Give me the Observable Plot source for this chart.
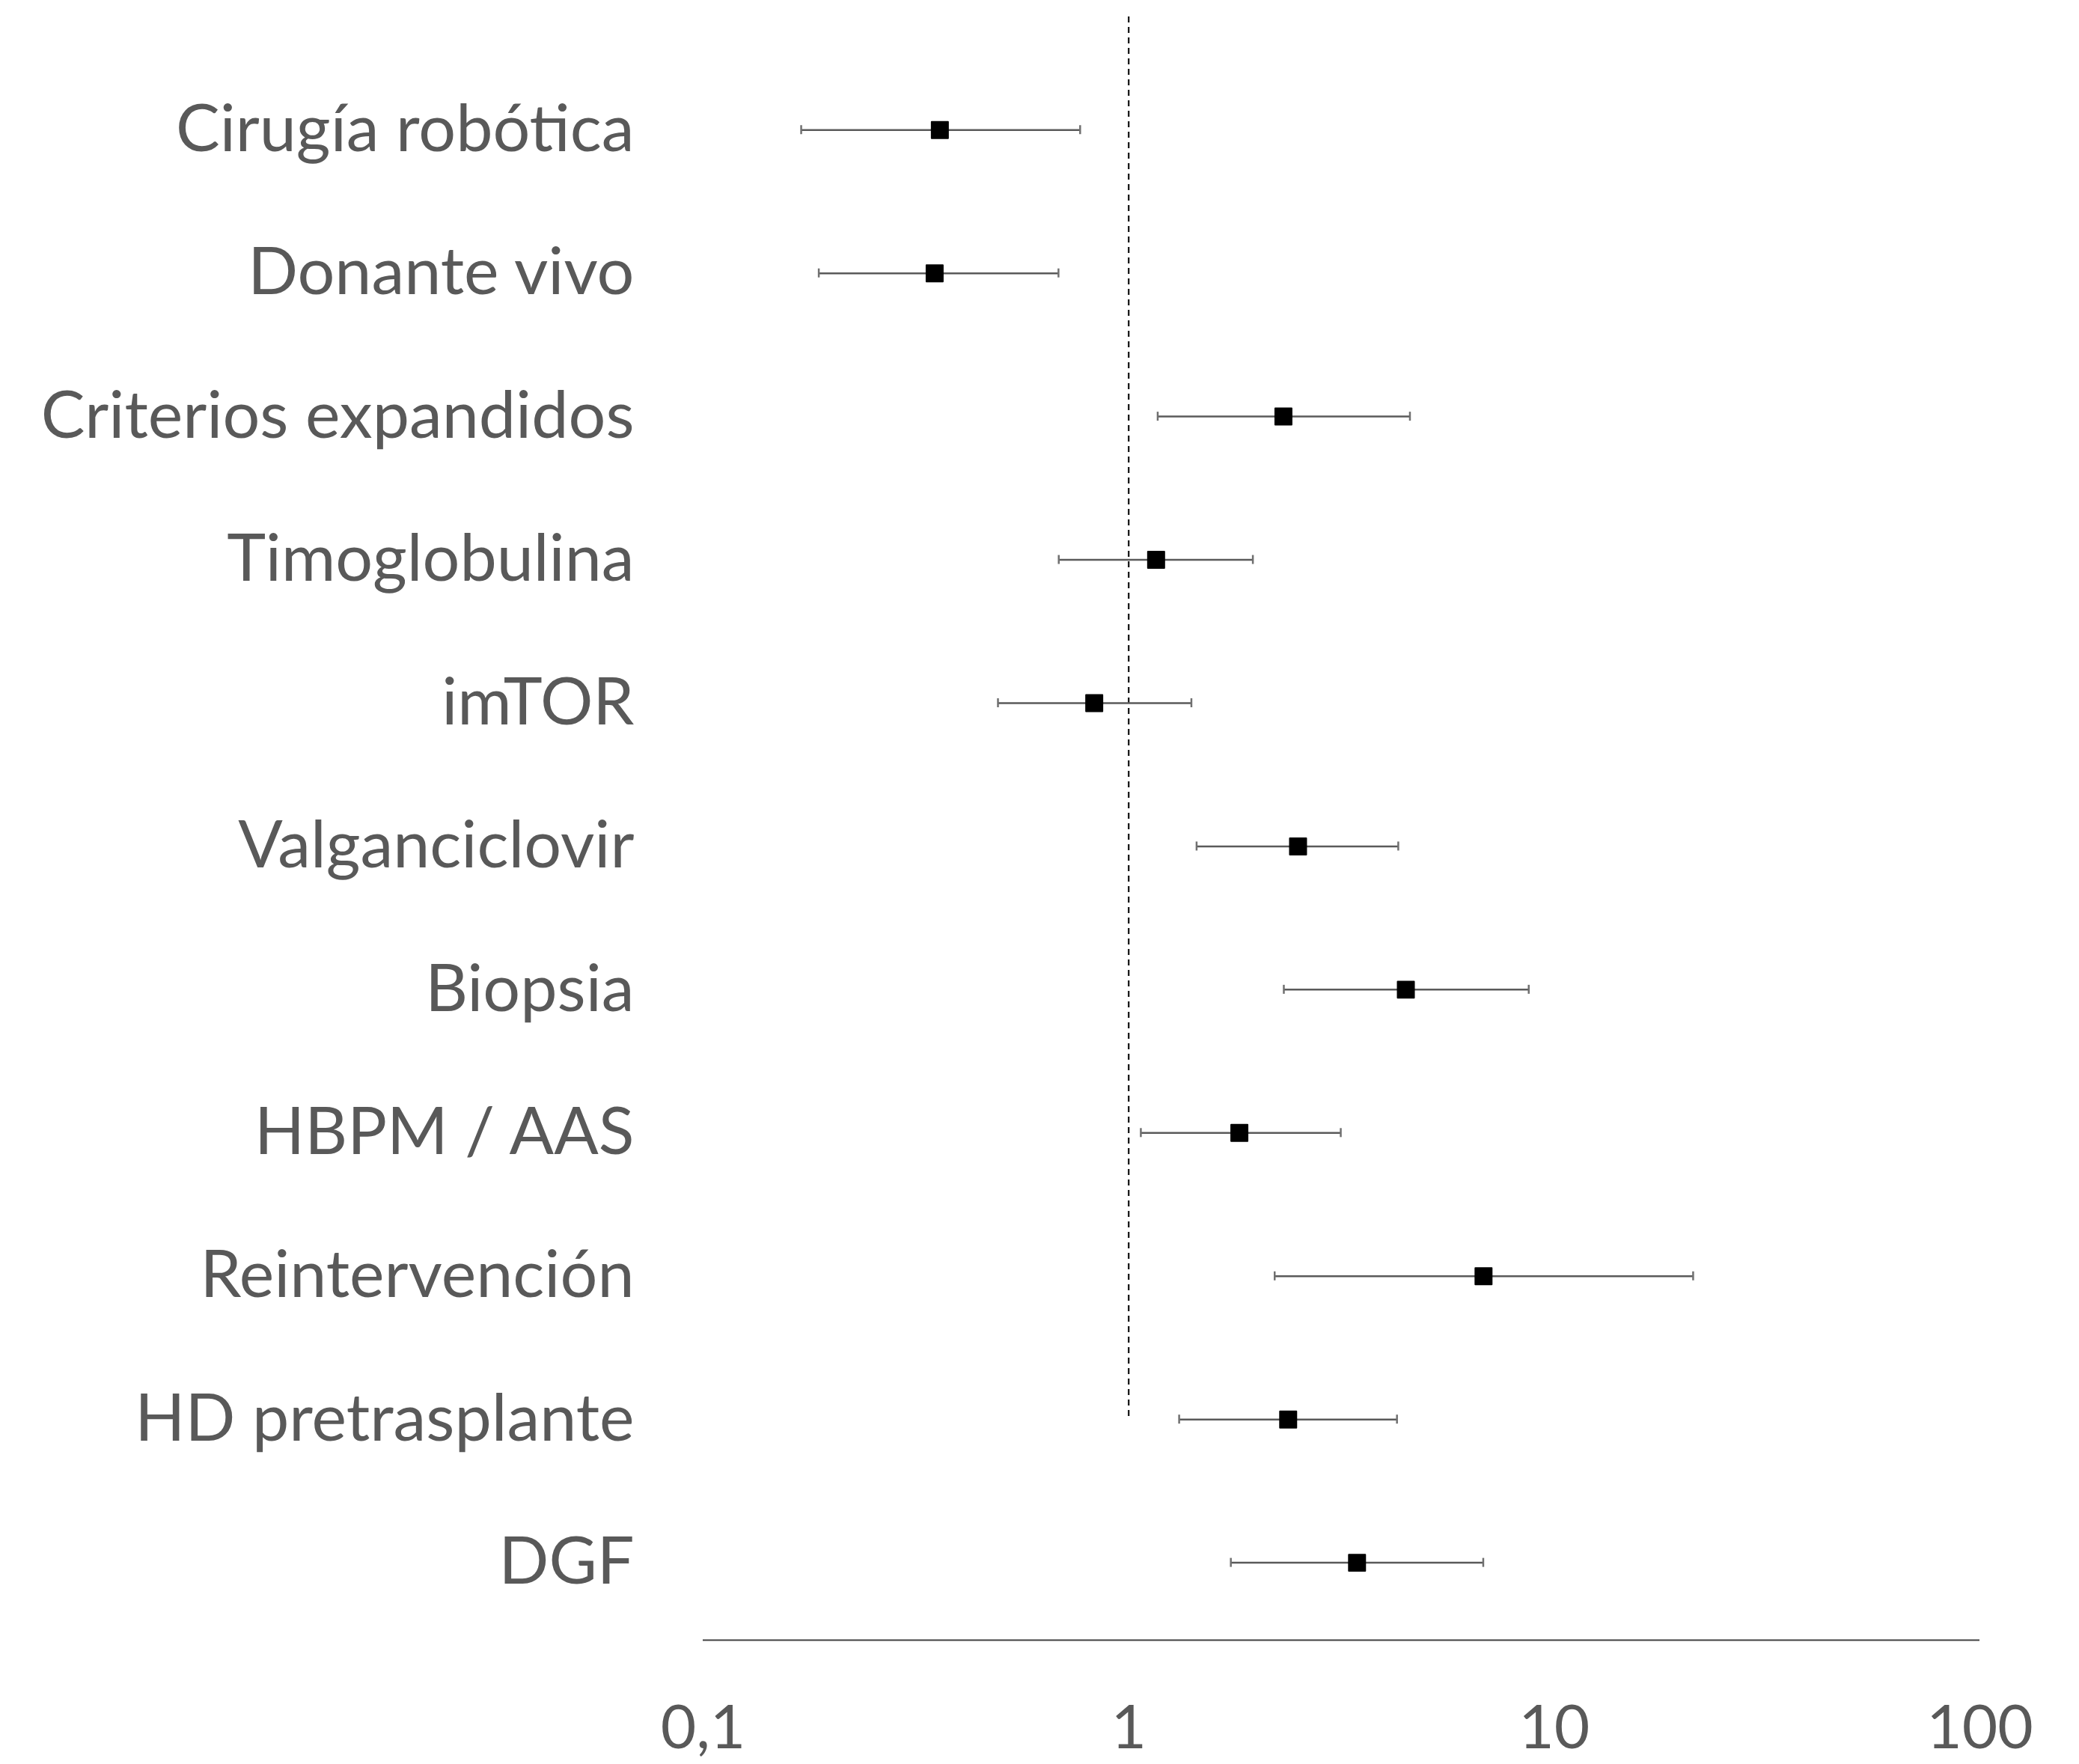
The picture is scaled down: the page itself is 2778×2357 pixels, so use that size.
<!DOCTYPE html>
<html>
<head>
<meta charset="utf-8">
<script src="https://cdn.jsdelivr.net/npm/d3@7"></script>
<script src="https://cdn.jsdelivr.net/npm/@observablehq/plot@0.6"></script>
<style>
  html, body { margin: 0; padding: 0; background: #ffffff; }
  svg { display: block; }
</style>
</head>
<body>
<div id="chart"></div>
<script>
// Factors (top to bottom)
const labels = [
  "Cirugía robótica",
  "Donante vivo",
  "Criterios expandidos",
  "Timoglobulina",
  "imTOR",
  "Valganciclovir",
  "Biopsia",
  "HBPM / AAS",
  "Reintervención",
  "HD pretrasplante",
  "DGF"
];
// Point estimates (odds ratio) and 95% CI bounds
const estimate = [0.36, 0.35, 2.31, 1.16, 0.83, 2.50, 4.48, 1.82, 6.82, 2.37, 3.44];
const lower    = [0.17, 0.187, 1.17, 0.685, 0.493, 1.444, 2.315, 1.068, 2.203, 1.314, 1.738];
const upper    = [0.769, 0.684, 4.58, 1.958, 1.404, 4.30, 8.71, 3.15, 21.2, 4.27, 6.81];

// X axis ticks
const xTicks = [0.1, 1, 10, 100];
const xTickLabels = ["0,1", "1", "10", "100"];

// Reference line (OR = 1) and its vertical extent in row units
const refValue = 1;
const refExtent = [0.21, 10];
// Y domain in row units (row 1 = first label)
const yDomain = [0.21, 11.54];

const idx = d3.range(labels.length);
const row = i => i + 1;

const chart = Plot.plot({
  width: 2778,
  height: 2357,
  marginLeft: 939,
  marginRight: 133,
  marginTop: 22,
  marginBottom: 166,
  x: { type: "log", domain: [0.1, 100] },
  y: { domain: yDomain, reverse: true },
  style: { fontFamily: "Lato, 'Open Sans', sans-serif", color: "#595959", background: "#ffffff" },
  marks: [
    Plot.ruleX([refValue], {
      x: d => d, y1: () => refExtent[0], y2: () => refExtent[1],
      stroke: "#1a1a1a", strokeWidth: 2.3, strokeDasharray: "8,6"
    }),
    Plot.ruleY([yDomain[1]], { y: d => d, stroke: "#404040", strokeWidth: 2 }),
    Plot.ruleY(idx, {
      x1: i => lower[i], x2: i => upper[i], y: row,
      stroke: "#5a5a5a", strokeWidth: 2.5
    }),
    Plot.ruleX(idx, {
      x: i => lower[i], y1: row, y2: row, insetTop: -6, insetBottom: -6,
      stroke: "#707070", strokeWidth: 2.5
    }),
    Plot.ruleX(idx, {
      x: i => upper[i], y1: row, y2: row, insetTop: -6, insetBottom: -6,
      stroke: "#707070", strokeWidth: 2.5
    }),
    Plot.dot(idx, {
      x: i => estimate[i], y: row, symbol: "square", r: 12.4,
      fill: "#000000", stroke: "#000000", strokeWidth: 2, strokeLinejoin: "round"
    }),
    Plot.axisY({
      ticks: idx.map(row), tickFormat: d => labels[d - 1],
      tickSize: 0, tickPadding: 92, fontSize: 88, fill: "#595959"
    }),
    Plot.axisX({
      ticks: xTicks, tickFormat: d => xTickLabels[xTicks.indexOf(d)],
      tickSize: 0, tickPadding: 86, fontSize: 82, fill: "#595959"
    })
  ]
});

document.getElementById("chart").appendChild(chart);
</script>
</body>
</html>
